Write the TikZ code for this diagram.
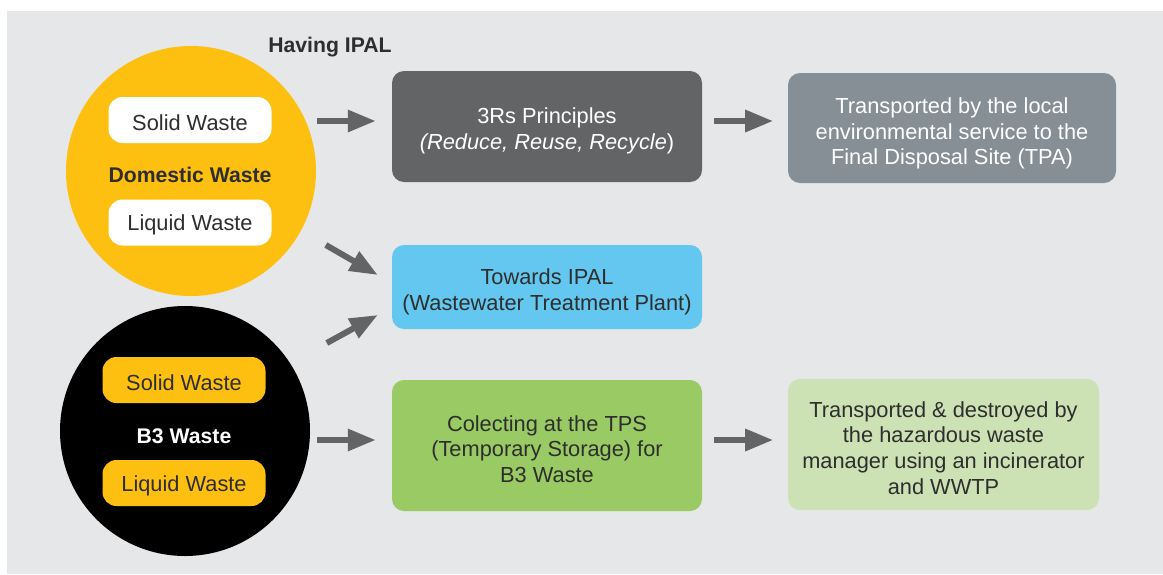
\documentclass[tikz,border=0pt]{standalone}
\usepackage{fontspec}
\setmainfont{Liberation Sans}
\usetikzlibrary{arrows.meta,calc}
\definecolor{panel}{HTML}{E6E7E8}
\definecolor{yel}{HTML}{FDC011}
\definecolor{dgrey}{HTML}{636466}
\definecolor{bgrey}{HTML}{868F95}
\definecolor{sky}{HTML}{63C7EF}
\definecolor{grn}{HTML}{99CA63}
\definecolor{lgrn}{HTML}{CCE1B4}
\definecolor{txt}{HTML}{2E2E2E}
\begin{document}
\begin{tikzpicture}[x=1pt,y=-1pt,
  every node/.style={font=\fontsize{21.8}{25.8}\selectfont, text=txt, inner sep=0pt},
  boldtxt/.style={font=\fontsize{21.2}{25.8}\selectfont\bfseries},
  bigcirc/.style={circle, minimum size=250pt},
  pill/.style={rounded corners=14pt, minimum width=163pt, minimum height=46pt},
  flowbox/.style={rounded corners=12pt, minimum width=310pt},
  boxtext/.style={align=center},
  arr/.style={draw=dgrey, line width=6pt, -{Triangle[length=28pt,width=21pt]}}]
\useasboundingbox (0,0) rectangle (1163,574);
\fill[panel] (7,11) rectangle (1163,574);

% circles
\node[bigcirc, fill=yel] (dom) at (191,171) {};
\node[bigcirc, fill=black] (b3) at (185,431) {};

\node[pill, fill=white] (ds) at (190,120) {};
\node (dst) at (190,122.5) {Solid Waste};
\node[boldtxt] (dt) at (190,175) {Domestic Waste};
\node[pill, fill=white] (dl) at (190,222.5) {};
\node (dlt) at (190,225) {Liquid Waste};

\node[pill, fill=yel] (bs) at (184,380) {};
\node (bst) at (184,382.5) {Solid Waste};
\node[boldtxt, text=white] (bt) at (184,436) {B3 Waste};
\node[pill, fill=yel] (bl) at (184,483) {};
\node (blt) at (184,485.5) {Liquid Waste};

\node[boldtxt] (hv) at (330,47) {Having IPAL};

% boxes
\node[flowbox, fill=dgrey, minimum height=111pt] (r3) at (547,126.5) {};
\node[boxtext, text=white] (r3t) at (547,131)
  {3Rs Principles\\\textit{(Reduce, Reuse, Recycle})};
\node[flowbox, fill=bgrey, minimum width=328pt, minimum height=110pt] (tr) at (952,128) {};
\node[boxtext, text=white] (trt) at (952,133.5)
  {Transported by the local\\environmental service to the\\Final Disposal Site (TPA)};
\node[flowbox, fill=sky, minimum height=84pt] (ip) at (547,287) {};
\node[boxtext] (ipt) at (547,292)
  {Towards IPAL\\(Wastewater Treatment Plant)};
\node[flowbox, fill=grn, minimum height=131pt] (gr) at (547,445.5) {};
\node[boxtext] (grt) at (547,449)
  {Colecting at the TPS\\(Temporary Storage) for\\B3 Waste};
\node[flowbox, fill=lgrn, minimum width=311pt, minimum height=131pt] (lg) at (943.5,444.5) {};
\node[boxtext] (lgt) at (943.5,448)
  {Transported \& destroyed by\\the hazardous waste\\manager using an incinerator\\and WWTP};

% arrows
\draw[arr] ($(r3.west)+(-75,-5.5)$) -- ($(r3.west)+(-16,-5.5)$);
\draw[arr] ($(r3.east)+(12,-5.5)$) -- ($(r3.east)+(71,-5.5)$);
\draw[arr] ($(ip.west)+(-66,-42)$) -- ($(ip.west)+(-14,-12)$);
\draw[arr] ($(ip.west)+(-65,56)$) -- ($(ip.west)+(-14,28)$);
\draw[arr] ($(gr.west)+(-75,-5.5)$) -- ($(gr.west)+(-16,-5.5)$);
\draw[arr] ($(gr.east)+(12,-5.5)$) -- ($(gr.east)+(71,-5.5)$);
\end{tikzpicture}
\end{document}
